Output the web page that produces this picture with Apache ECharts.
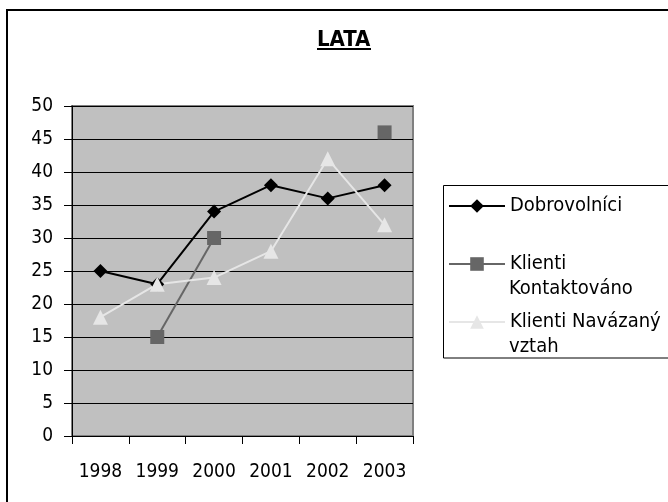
<!DOCTYPE html>
<html>
<head>
<meta charset="utf-8">
<script src="https://cdn.jsdelivr.net/npm/echarts@6/dist/echarts.min.js"></script>
<style>html,body{margin:0;padding:0;background:#fff;}#c{width:668px;height:502px;}</style>
</head>
<body>
<div id="c"></div>
<script>
var categories = ['1998', '1999', '2000', '2001', '2002', '2003'];
var dobrovolnici = [25, 23, 34, 38, 36, 38];
var kontaktovano = [null, 15, 30, null, null, 46];
var navazany = [18, 23, 24, 28, 42, 32];
var seriesNames = ['Dobrovolníci', 'Klienti Kontaktováno', 'Klienti Navázaný vztah'];
var legendFirstLines = ['Dobrovolníci', 'Klienti', 'Klienti Navázaný'];
var legendSecondLines = ['', 'Kontaktováno', 'vztah'];
var titleText = 'LATA';

var FONT = '"DejaVu Sans Condensed", "DejaVu Sans", sans-serif';
var chart = echarts.init(document.getElementById('c'));

var legendTops = [194, 252, 310];
var legends = [];
var graphics = [
  { type: 'rect', shape: { x: 7, y: 10, width: 700, height: 600 }, style: { fill: 'none', stroke: '#000', lineWidth: 2 }, silent: true },
  { type: 'line', shape: { x1: 317, y1: 49, x2: 371, y2: 49 }, style: { stroke: '#000', lineWidth: 2 }, silent: true },
  { type: 'rect', shape: { x: 443.5, y: 185.5, width: 300, height: 172.5 }, style: { fill: 'none', stroke: '#000', lineWidth: 1 }, silent: true }
];
seriesNames.forEach(function (name, i) {
  var first = legendFirstLines[i];
  legends.push({
    data: [name], orient: 'vertical', left: 448, top: legendTops[i],
    itemWidth: 56, itemHeight: 17, padding: 0,
    formatter: function () { return first; },
    textStyle: { fontFamily: FONT, fontSize: 20, color: '#000', lineHeight: 24 }
  });
  if (legendSecondLines[i]) {
    graphics.push({
      type: 'text', left: 509, top: legendTops[i] + 25, silent: true,
      style: { text: legendSecondLines[i], font: '20px ' + FONT, fill: '#000', lineHeight: 24 }
    });
  }
});

chart.setOption({
  animation: false,
  backgroundColor: '#fff',
  title: {
    text: titleText, left: 317, top: 29, padding: 0,
    textStyle: { fontFamily: FONT, fontSize: 22, fontWeight: 'bold', color: '#000' }
  },
  graphic: graphics,
  legend: legends,
  grid: {
    left: 72, right: 255, top: 106, bottom: 66,
    show: true, backgroundColor: '#C0C0C0', borderColor: '#808080', borderWidth: 2
  },
  xAxis: {
    type: 'category', data: categories, boundaryGap: true,
    axisLine: { show: true, lineStyle: { color: '#000', width: 1 } },
    axisTick: { show: true, inside: false, length: 8, alignWithLabel: false, lineStyle: { color: '#000' } },
    axisLabel: { margin: 27, fontFamily: FONT, fontSize: 19, color: '#000' },
    splitLine: { show: false }
  },
  yAxis: {
    type: 'value', min: 0, max: 50, interval: 5,
    axisLine: { show: true, lineStyle: { color: '#000', width: 1 } },
    axisTick: { show: true, inside: false, length: 8, lineStyle: { color: '#000' } },
    axisLabel: { margin: 19, fontFamily: FONT, fontSize: 19, color: '#000' },
    splitLine: { show: true, lineStyle: { color: '#000', width: 1 } }
  },
  series: [
    { name: seriesNames[0], type: 'line', data: dobrovolnici, symbol: 'diamond', symbolSize: 14,
      itemStyle: { color: '#000' }, lineStyle: { color: '#000', width: 2 } },
    { name: seriesNames[1], type: 'line', data: kontaktovano, symbol: 'rect', symbolSize: 14, connectNulls: false,
      itemStyle: { color: '#666666' }, lineStyle: { color: '#666666', width: 2 } },
    { name: seriesNames[2], type: 'line', data: navazany, symbol: 'triangle', symbolSize: 15,
      itemStyle: { color: '#E6E6E6' }, lineStyle: { color: '#E6E6E6', width: 2 } }
  ]
});
</script>
</body>
</html>
